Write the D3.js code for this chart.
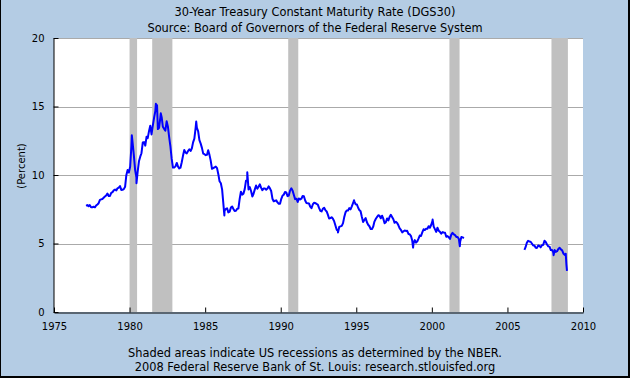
<!DOCTYPE html>
<html><head><meta charset="utf-8">
<script src="https://cdn.jsdelivr.net/npm/d3@7"></script>
<style>html,body{margin:0;padding:0;background:#fff}svg{display:block}</style>
</head><body><svg id="c" width="630" height="378"></svg>
<script>
const titleLines = ["30-Year Treasury Constant Maturity Rate (DGS30)", "Source: Board of Governors of the Federal Reserve System"];
const footerLines = ["Shaded areas indicate US recessions as determined by the NBER.", "2008 Federal Reserve Bank of St. Louis: research.stlouisfed.org"];
const yLabel = "(Percent)";
const yTicks = [0, 5, 10, 15, 20];
const xTicks = [1975, 1980, 1985, 1990, 1995, 2000, 2005, 2010];
const recessionStarts = ["1980-01-01", "1981-07-01", "1990-07-01", "2001-03-01", "2007-12-01"];
const recessionEnds   = ["1980-07-01", "1982-11-01", "1991-03-01", "2001-11-01", "2009-01-01"];
const rateYears = [1977,1978,1979,1980,1981,1982,1983,1984,1985,1986,1987,1988,1989,1990,1991,1992,1993,1994,1995,1996,1997,1998,1999,2000,2001,2002,2006,2007,2008];
const monthlyRates = [
 [null,7.75,7.80,7.73,7.80,7.64,7.64,7.68,7.64,7.77,7.85,7.94],
 [8.18,8.22,8.25,8.34,8.43,8.50,8.65,8.47,8.47,8.69,8.75,8.88],
 [8.94,8.87,9.03,9.08,9.19,8.91,8.92,8.97,9.14,9.99,10.37,10.18],
 [10.60,12.13,12.34,11.40,10.36,9.81,10.24,11.00,11.34,11.59,12.37,12.40],
 [12.14,12.80,12.69,13.20,13.60,12.96,13.59,14.17,14.67,14.68,13.35,13.45],
 [14.22,14.22,13.53,13.37,13.24,13.92,13.55,12.77,12.07,11.17,10.54,10.54],
 [10.63,10.88,10.63,10.48,10.53,10.93,11.40,11.82,11.63,11.58,11.75,11.88],
 [11.75,11.95,12.38,12.65,13.43,13.44,13.21,12.54,12.29,11.98,11.56,11.52],
 [11.45,11.47,11.81,11.47,11.05,10.45,10.50,10.56,10.61,10.50,10.06,9.54],
 [9.40,8.93,7.96,7.39,7.52,7.57,7.27,7.33,7.62,7.70,7.52,7.37],
 [7.39,7.54,7.55,8.25,8.78,8.57,8.64,8.97,9.59,9.61,8.95,9.12],
 [8.83,8.43,8.63,8.95,9.23,9.00,9.14,9.32,9.06,8.89,9.02,9.01],
 [8.93,9.01,9.17,9.03,8.83,8.27,8.08,8.12,8.15,8.00,7.90,7.90],
 [8.26,8.50,8.56,8.76,8.73,8.46,8.50,8.86,9.03,8.86,8.54,8.24],
 [8.27,8.03,8.29,8.21,8.27,8.47,8.45,8.14,7.95,7.93,7.92,7.70],
 [7.58,7.85,7.97,7.96,7.89,7.84,7.60,7.39,7.34,7.53,7.61,7.44],
 [7.34,7.09,6.82,6.85,6.92,6.81,6.63,6.32,6.00,5.94,6.21,6.25],
 [6.29,6.49,6.91,7.27,7.41,7.40,7.58,7.49,7.71,7.94,8.08,7.87],
 [7.85,7.61,7.45,7.36,6.95,6.57,6.72,6.86,6.55,6.37,6.26,6.06],
 [6.05,6.24,6.60,6.79,6.93,7.06,7.03,6.84,7.03,6.81,6.48,6.55],
 [6.83,6.69,6.93,7.09,6.94,6.77,6.51,6.58,6.50,6.33,6.11,5.99],
 [5.81,5.89,5.95,5.92,5.93,5.70,5.68,5.54,5.20,5.01,5.25,5.06],
 [5.16,5.37,5.58,5.55,5.81,6.04,5.98,6.07,6.07,6.26,6.15,6.35],
 [6.63,6.23,6.05,5.85,6.15,5.93,5.85,5.72,5.83,5.80,5.78,5.49],
 [5.54,5.45,5.34,5.65,5.78,5.67,5.61,5.48,5.48,5.32,5.12,5.48],
 [5.45,5.40,null],
 [null,4.54,4.73,5.06,5.20,5.15,5.13,5.00,4.85,4.85,4.69,4.68],
 [4.85,4.82,4.72,4.87,4.90,5.20,5.11,4.93,4.79,4.77,4.52,4.53],
 [4.33,4.52,4.39,4.44,4.60,4.69,4.57,4.50,4.27,4.17]
];
const dailyDates = ["1980-02-25","1980-06-16","1981-09-28","1981-10-26","1982-01-25","1984-05-30","1986-04-10","1987-10-16","1993-10-15","1994-11-07","1998-10-05","2000-01-20","2001-11-07","2008-01-22","2008-11-10","2008-11-25","2008-12-10"];
const dailyRates = [12.9,9.4,15.2,15.1,14.5,13.9,7.05,10.2,5.8,8.16,4.7,6.75,4.8,4.15,4.25,3.5,3.0];

const W = 630, H = 378;
const m = {left: 54, right: 47, top: 38, bottom: 66};
const parse = d3.timeParse("%Y-%m-%d");
const font = "'DejaVu Sans', Verdana, sans-serif";

let series = [];
rateYears.forEach((yr, i) => monthlyRates[i].forEach((v, mo) => series.push({d: new Date(yr, mo, 15), v})));
dailyDates.forEach((s, i) => series.push({d: parse(s), v: dailyRates[i]}));
series.sort((a, b) => a.d - b.d);

const svg = d3.select("#c");
svg.append("rect").attr("width", W).attr("height", H).attr("fill", "#B4CCE4");
svg.append("rect").attr("x", 0).attr("y", 0).attr("width", 1).attr("height", H).attr("fill", "#000");
svg.append("rect").attr("x", W - 2).attr("y", 0).attr("width", 2).attr("height", H).attr("fill", "#000");
svg.append("rect").attr("x", 0).attr("y", H - 2).attr("width", W).attr("height", 2).attr("fill", "#000");

const x = d3.scaleTime().domain([new Date(1975, 0, 1), new Date(2010, 0, 1)]).range([m.left, W - m.right]);
const y = d3.scaleLinear().domain([0, 20]).range([H - m.bottom, m.top]);

svg.append("rect").attr("x", m.left).attr("y", m.top).attr("width", W - m.left - m.right).attr("height", H - m.top - m.bottom).attr("fill", "#fff");

svg.append("g").selectAll("line").data(yTicks.filter(t => t > 0)).join("line")
  .attr("x1", m.left).attr("x2", W - m.right)
  .attr("y1", d => Math.round(y(d)) + 0.5).attr("y2", d => Math.round(y(d)) + 0.5)
  .attr("stroke", "#AAAAAA").attr("stroke-width", 1);

svg.append("g").selectAll("rect").data(recessionStarts).join("rect")
  .attr("x", (d) => x(parse(d)))
  .attr("width", (d, i) => x(parse(recessionEnds[i])) - x(parse(d)))
  .attr("y", m.top).attr("height", H - m.top - m.bottom)
  .attr("fill", "#C0C0C0");

const line = d3.line().defined(d => d.v != null).x(d => x(d.d)).y(d => y(d.v));
svg.append("path").datum(series).attr("d", line)
  .attr("fill", "none").attr("stroke", "#0000FF").attr("stroke-width", 2).attr("stroke-linejoin", "round");

const yAxis = d3.axisLeft(y).tickValues(yTicks).tickFormat(d3.format("d")).tickSizeInner(-5).tickSizeOuter(0).tickPadding(9);
const gy = svg.append("g").attr("transform", `translate(${m.left - 0.5},0)`).call(yAxis);
const xAxis = d3.axisBottom(x).tickValues(xTicks.map(t => new Date(t, 0, 1))).tickFormat(d3.timeFormat("%Y")).tickSizeInner(-5).tickSizeOuter(0).tickPadding(10);
const gx = svg.append("g").attr("transform", `translate(0,${H - m.bottom + 0.5})`).call(xAxis);
[gx, gy].forEach(g => {
  g.selectAll("path,line").attr("stroke", "#000");
  g.selectAll("text").attr("fill", "#000").style("font-family", font).style("font-size", "10px");
});

svg.append("text").attr("transform", "translate(21,166) rotate(-90)").attr("text-anchor", "middle").attr("dy", "0.35em")
  .style("font-family", font).style("font-size", "10px").text(yLabel);

svg.append("g").selectAll("text").data(titleLines).join("text")
  .attr("x", W / 2).attr("y", (d, i) => 16 + i * 16).attr("text-anchor", "middle")
  .style("font-family", font).style("font-size", "11.4px").attr("fill", "#000").text(d => d);
svg.append("g").selectAll("text").data(footerLines).join("text")
  .attr("x", W / 2).attr("y", (d, i) => 357 + i * 13.5).attr("text-anchor", "middle")
  .style("font-family", font).style("font-size", "11.4px").attr("fill", "#000").text(d => d);
</script></body></html>
